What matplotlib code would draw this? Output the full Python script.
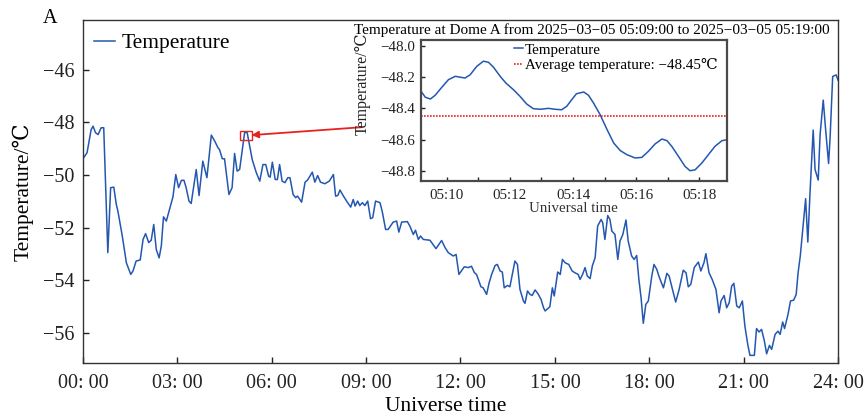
import matplotlib
matplotlib.use("Agg")
import matplotlib.pyplot as plt
from matplotlib.patches import Rectangle
from matplotlib.ticker import MultipleLocator, FixedLocator

plt.rcParams['font.family'] = ['Liberation Serif', 'DejaVu Serif']

# daily record, hours since 00:00 UT
hours = [0.00, 0.13, 0.26, 0.32, 0.40, 0.48, 0.58, 0.66, 0.79, 0.88, 0.98, 1.06, 1.11, 1.25,
         1.38, 1.52, 1.59, 1.69, 1.82, 1.91, 1.99, 2.09, 2.17, 2.25, 2.33, 2.42, 2.49, 2.56,
         2.65, 2.75, 2.86, 2.95, 3.04, 3.13, 3.21, 3.28, 3.37, 3.44, 3.60, 3.69, 3.81, 3.94,
         4.08, 4.19, 4.29, 4.34, 4.43, 4.50, 4.64, 4.74, 4.82, 4.90, 4.98, 5.14, 5.22, 5.38,
         5.51, 5.62, 5.72, 5.81, 5.90, 5.95, 6.02, 6.11, 6.18, 6.25, 6.33, 6.42, 6.51, 6.58,
         6.68, 6.76, 6.82, 6.95, 7.06, 7.14, 7.29, 7.37, 7.46, 7.55, 7.69, 7.83, 7.96, 8.03,
         8.10, 8.17, 8.28, 8.38, 8.51, 8.59, 8.65, 8.73, 8.80, 8.88, 8.96, 9.05, 9.14, 9.21,
         9.30, 9.44, 9.51, 9.62, 9.70, 9.86, 9.97, 10.04, 10.13, 10.31, 10.39, 10.50, 10.57,
         10.66, 10.73, 10.82, 11.03, 11.22, 11.40, 11.51, 11.61, 11.77, 11.86, 11.95, 12.12,
         12.25, 12.35, 12.44, 12.51, 12.65, 12.72, 12.83, 12.91, 12.99, 13.10, 13.17, 13.26,
         13.33, 13.39, 13.49, 13.57, 13.73, 13.81, 13.89, 14.00, 14.05, 14.13, 14.21, 14.28,
         14.37, 14.46, 14.56, 14.64, 14.69, 14.80, 14.84, 14.92, 14.98, 15.09, 15.17, 15.24,
         15.33, 15.44, 15.55, 15.64, 15.74, 15.80, 15.88, 15.96, 16.03, 16.12, 16.19, 16.28,
         16.36, 16.47, 16.52, 16.59, 16.68, 16.75, 16.81, 16.91, 17.00, 17.07, 17.16, 17.26,
         17.33, 17.44, 17.52, 17.60, 17.67, 17.74, 17.81, 17.89, 17.97, 18.08, 18.15, 18.24,
         18.31, 18.45, 18.56, 18.63, 18.74, 18.84, 18.95, 19.08, 19.17, 19.24, 19.32, 19.43,
         19.56, 19.64, 19.74, 19.80, 19.90, 20.00, 20.12, 20.22, 20.28, 20.38, 20.46, 20.54,
         20.62, 20.69, 20.78, 20.86, 20.96, 21.04, 21.13, 21.20, 21.34, 21.41, 21.49, 21.57,
         21.66, 21.73, 21.82, 21.89, 22.00, 22.09, 22.16, 22.24, 22.30, 22.41, 22.49, 22.59,
         22.67, 22.73, 22.80, 22.88, 22.97, 23.04, 23.11, 23.21, 23.27, 23.37, 23.43, 23.53,
         23.61, 23.70, 23.75, 23.83, 23.94, 24.00]
temps = [-49.38, -49.15, -48.27, -48.14, -48.39, -48.46, -48.20, -48.20, -52.95, -50.48, -50.46,
         -51.12, -51.37, -52.32, -53.34, -53.78, -53.65, -53.27, -53.23, -52.45, -52.23, -52.57,
         -52.48, -51.88, -52.83, -53.15, -52.70, -51.59, -51.75, -51.31, -50.83, -49.98, -50.48,
         -50.20, -50.20, -50.48, -50.99, -51.08, -49.79, -50.78, -49.47, -50.10, -48.48, -48.71,
         -48.96, -49.03, -49.38, -49.38, -50.74, -50.48, -49.18, -49.85, -49.79, -48.37, -48.39,
         -49.41, -49.91, -50.23, -49.60, -49.60, -50.04, -50.08, -49.51, -50.17, -50.17, -49.60,
         -50.23, -50.29, -50.10, -50.10, -50.74, -50.86, -50.80, -51.03, -50.27, -50.19, -49.89,
         -50.27, -50.02, -50.27, -50.33, -50.23, -49.98, -50.80, -50.78, -50.57, -50.80, -50.99,
         -51.22, -50.93, -51.18, -50.99, -51.16, -51.05, -51.16, -50.99, -51.66, -51.62, -50.99,
         -51.05, -51.37, -52.07, -52.07, -51.79, -51.75, -52.17, -51.79, -51.77, -51.94, -52.26,
         -52.10, -52.45, -52.32, -52.45, -52.48, -52.80, -52.49, -52.76, -52.95, -53.08, -53.02,
         -53.78, -53.49, -53.52, -53.47, -53.71, -53.78, -54.25, -54.29, -54.54, -54.10, -53.78,
         -53.44, -53.40, -53.65, -53.69, -54.29, -54.20, -54.25, -53.27, -53.40, -54.35, -54.79,
         -54.88, -54.41, -54.54, -54.58, -54.37, -54.51, -54.73, -55.05, -55.17, -55.05, -55.01,
         -54.29, -54.60, -53.69, -53.78, -53.21, -53.34, -53.40, -53.65, -53.72, -53.78, -53.97,
         -53.78, -53.52, -53.84, -53.94, -53.46, -53.14, -51.94, -51.69, -51.81, -52.45, -51.54,
         -51.69, -52.13, -52.26, -53.21, -52.51, -52.26, -51.71, -52.51, -53.08, -53.21, -53.06,
         -53.97, -54.67, -55.64, -54.92, -54.79, -53.84, -53.40, -53.59, -53.86, -54.29, -53.74,
         -53.84, -54.35, -54.83, -54.35, -53.62, -53.72, -54.25, -54.16, -53.52, -53.31, -53.65,
         -53.33, -52.99, -53.72, -53.97, -54.35, -55.24, -54.79, -54.58, -55.05, -54.86, -54.22,
         -54.12, -54.98, -55.05, -54.79, -55.75, -56.44, -56.86, -56.86, -55.84, -55.97, -55.87,
         -56.32, -56.80, -56.48, -56.63, -56.06, -55.94, -56.06, -55.59, -55.84, -55.30, -54.79,
         -54.76, -54.54, -53.72, -53.08, -52.07, -50.90, -52.55, -50.67, -48.29, -49.79, -50.19,
         -48.46, -47.15, -48.33, -49.56, -48.52, -46.25, -46.19, -46.39]

# zoomed window, minutes after 05:00 UT
zoom_min = [9.18, 9.32, 9.48, 9.63, 9.84, 10.05, 10.27, 10.42, 10.58, 10.74, 10.95, 11.16, 11.32,
            11.48, 11.69, 11.87, 12.11, 12.32, 12.53, 12.74, 12.96, 13.22, 13.43, 13.64, 13.80,
            13.96, 14.11, 14.34, 14.49, 14.65, 14.86, 15.08, 15.29, 15.50, 15.71, 15.97, 16.18,
            16.39, 16.60, 16.82, 16.98, 17.13, 17.34, 17.55, 17.71, 17.87, 18.08, 18.29, 18.50,
            18.72, 18.87]
zoom_temp = [-48.289, -48.328, -48.339, -48.315, -48.264, -48.215, -48.193, -48.199, -48.204,
             -48.183, -48.129, -48.096, -48.103, -48.135, -48.193, -48.236, -48.279, -48.322,
             -48.371, -48.401, -48.405, -48.399, -48.405, -48.408, -48.386, -48.343, -48.305,
             -48.294, -48.315, -48.365, -48.440, -48.536, -48.622, -48.671, -48.697, -48.718,
             -48.714, -48.675, -48.628, -48.596, -48.607, -48.643, -48.707, -48.772, -48.800,
             -48.794, -48.751, -48.697, -48.643, -48.607, -48.601]
avg_temp = -48.45

# highlighted box on the daily curve (hours, degC)
box_x = (4.99, 5.36)
box_y = (-48.68, -48.33)
arrow_tail = (8.86, -48.18)

blue = '#2457b0'
red = '#e8231f'

fig = plt.figure(figsize=(8.66, 4.16), dpi=100)
ax = fig.add_axes([0.0958, 0.1274, 0.8719, 0.8246])
ax.plot(hours, temps, color=blue, lw=1.1, label='Temperature')
ax.set_xlim(0, 24)
ax.set_ylim(-57.15, -44.1)
ax.set_xticks(range(0, 25, 3))
ax.set_xticklabels([f'{h:02d}: 00' for h in range(0, 25, 3)])
ax.set_yticks([-56, -54, -52, -50, -48, -46])
ax.tick_params(direction='in', length=4.5, width=1, labelsize=14.5, colors='#222222')
ax.tick_params(axis='x', pad=8)
ax.tick_params(axis='y', pad=6)
for s in ax.spines.values():
    s.set_linewidth(1.0)
    s.set_color('#333333')
ax.set_xlabel('Universe time', fontsize=15.5)
ax.xaxis.set_label_coords(0.481, -0.099)
ax.set_ylabel('Temperature/℃', fontsize=15.5, labelpad=7)
ax.legend(loc='upper left', bbox_to_anchor=(-0.006, 1.005), frameon=False, fontsize=15.5,
          handlelength=1.0, handletextpad=0.3, borderaxespad=0.3)
fig.text(0.058, 0.955, 'A', fontsize=14.5, ha='center', va='center')

ax.add_patch(Rectangle((box_x[0], box_y[0]), box_x[1] - box_x[0], box_y[1] - box_y[0],
                       fill=False, edgecolor=red, lw=1.0, zorder=4))
ax.annotate('', xy=(box_x[1], -48.48), xytext=arrow_tail,
            arrowprops=dict(arrowstyle='-|>', color=red, lw=1.3, mutation_scale=10,
                            shrinkA=0, shrinkB=0))

# inset with the 10-minute window
ins = fig.add_axes([0.4861, 0.5656, 0.3530, 0.3382])
ins.set_facecolor('white')
ins.plot(zoom_min, zoom_temp, color=blue, lw=1.1, label='Temperature')
ins.axhline(avg_temp, color=red, lw=1.2, ls=(0, (1, 0.8)),
            label=f'Average temperature: {avg_temp:.2f}℃'.replace('-', '−'))
ins.set_xlim(zoom_min[0], zoom_min[-1])
ins.set_ylim(-48.864, -47.96)
ins.xaxis.set_major_locator(FixedLocator([10, 12, 14, 16, 18]))
ins.xaxis.set_minor_locator(MultipleLocator(1))
ins.set_xticklabels(['05:10', '05:12', '05:14', '05:16', '05:18'])
ins.set_yticks([-48.8, -48.6, -48.4, -48.2, -48.0])
ins.set_yticklabels(['−48.8', '−48.6', '−48.4', '−48.2', '−48.0'])
ins.tick_params(which='both', direction='in', length=3, width=1, labelsize=10.8,
                colors='#222222')
ins.tick_params(axis='x', which='both', pad=6)
ins.tick_params(axis='y', pad=4)
for s in ins.spines.values():
    s.set_linewidth(1.6)
    s.set_color('#4a4a4a')
ins.set_xlabel('Universal time', fontsize=10.8, labelpad=0, color='#333333')
ins.set_ylabel('Temperature/℃', fontsize=11.5, color='#222222')
ins.yaxis.set_label_coords(-0.165, 0.69)
ins.text(0.56, 1.071, 'Temperature at Dome A from 2025−03−05 05:09:00 to 2025−03−05 05:19:00',
         transform=ins.transAxes, ha='center', va='center', fontsize=11)
ins.legend(loc='upper left', bbox_to_anchor=(0.285, 1.02), frameon=False, fontsize=10.8,
           handlelength=0.6, handletextpad=0.1, labelspacing=0.1, borderaxespad=0)

fig.savefig('out.png', dpi=100)
